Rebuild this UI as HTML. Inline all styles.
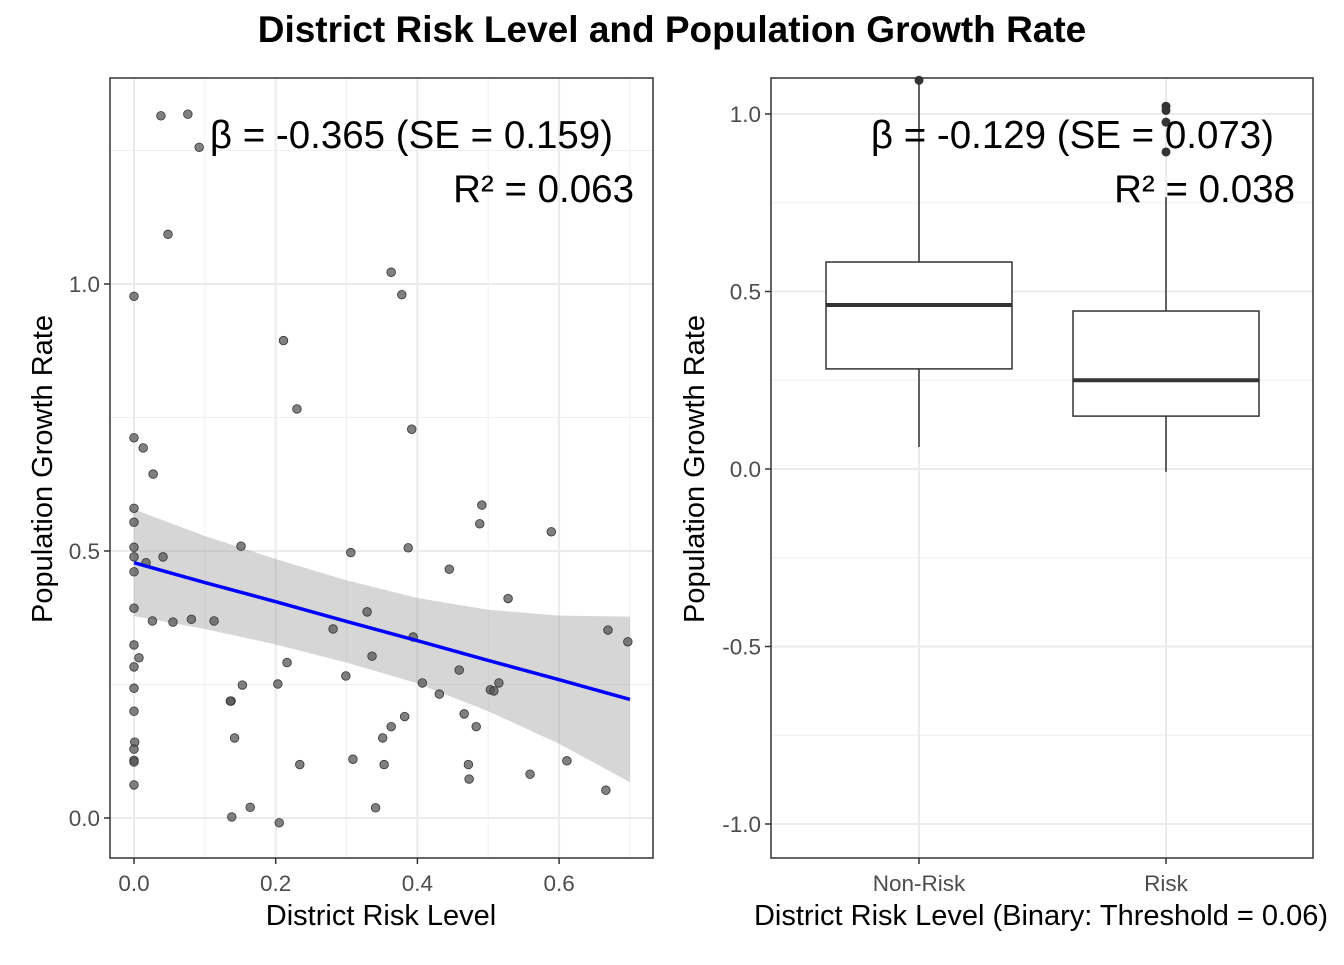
<!DOCTYPE html>
<html><head><meta charset="utf-8"><style>
body{margin:0;background:#fff;width:1344px;height:960px;overflow:hidden}
svg text{font-family:"Liberation Sans",sans-serif}
</style></head><body>
<svg id="c" width="1344" height="960" xmlns="http://www.w3.org/2000/svg">
<text x="672" y="42" text-anchor="middle" font-size="37" font-weight="bold">District Risk Level and Population Growth Rate</text>
</svg>
<script>
const riskX=[0.038,0.076,0.092,0.048,0.0,0.363,0.378,0.211,0.23,0.392,0.0,0.013,0.027,0.0,0.0,0.0,0.0,0.017,0.041,0.0,0.151,0.306,0.387,0.445,0.491,0.488,0.589,0.0,0.026,0.055,0.081,0.113,0.329,0.281,0.394,0.528,0.0,0.007,0.0,0.0,0.0,0.001,0.216,0.203,0.137,0.153,0.299,0.336,0.407,0.431,0.459,0.503,0.508,0.515,0.669,0.697,0.466,0.483,0.382,0.363,0.351,0.136,0.142,0.0,0.0,0.0,0.0,0.234,0.309,0.353,0.472,0.473,0.559,0.611,0.666,0.138,0.164,0.205,0.341];
const growth=[1.315,1.318,1.256,1.093,0.977,1.022,0.98,0.894,0.766,0.728,0.712,0.693,0.644,0.58,0.554,0.507,0.489,0.478,0.489,0.461,0.509,0.497,0.506,0.466,0.586,0.551,0.536,0.393,0.369,0.367,0.372,0.369,0.386,0.354,0.339,0.411,0.324,0.3,0.283,0.243,0.2,0.142,0.291,0.251,0.219,0.249,0.266,0.303,0.253,0.232,0.277,0.24,0.238,0.253,0.352,0.33,0.195,0.171,0.19,0.171,0.15,0.219,0.15,0.129,0.108,0.105,0.062,0.1,0.11,0.1,0.1,0.073,0.082,0.107,0.052,0.002,0.02,-0.009,0.019];
const fitX=[0,0.1,0.2,0.3,0.4,0.5,0.6,0.7];
const fitY=[0.478,0.441,0.405,0.368,0.332,0.295,0.259,0.222];
const fitHW=[0.10,0.087,0.08,0.077,0.08,0.095,0.12,0.155];
const xTicks=[0,0.2,0.4,0.6], xTickLabels=["0.0","0.2","0.4","0.6"];
const yTicks=[0,0.5,1.0], yTickLabels=["0.0","0.5","1.0"];
const groups=["Non-Risk","Risk"];
const boxQ1=[0.282,0.149], boxMed=[0.462,0.25], boxQ3=[0.583,0.445];
const whiskLo=[0.062,-0.008], whiskHi=[1.085,0.766];
const outlierGroup=[0,1,1,1,1], outlierVal=[1.095,1.022,1.01,0.977,0.893];
const y2Ticks=[-1,-0.5,0,0.5,1], y2TickLabels=["-1.0","-0.5","0.0","0.5","1.0"];

const svg=document.getElementById('c');const NS='http://www.w3.org/2000/svg';
function mk(t,a,txt){const e=document.createElementNS(NS,t);for(const k in a)e.setAttribute(k,a[k]);if(txt!==undefined)e.textContent=txt;svg.appendChild(e);return e;}
const TF=22.5, AF=29, NF=38.5;
// left panel
const L={x0:110,x1:653,y0:78,y1:858};
const sx=v=>134+v*708.5, sy=v=>818-v*534;
const bg=mk('rect',{x:L.x0,y:L.y0,width:L.x1-L.x0,height:L.y1-L.y0,fill:'#fff'});


[0.1,0.3,0.5,0.7].forEach(v=>{const g=mk('line',{x1:sx(v),x2:sx(v),y1:L.y0,y2:L.y1,stroke:'#f0f0f0','stroke-width':1});});
[0.25,0.75,1.25].forEach(v=>{const g=mk('line',{x1:L.x0,x2:L.x1,y1:sy(v),y2:sy(v),stroke:'#f0f0f0','stroke-width':1});});
xTicks.forEach((v,i)=>{const g=mk('line',{x1:sx(v),x2:sx(v),y1:L.y0,y2:L.y1,stroke:'#ebebeb','stroke-width':2});
 const t=mk('line',{x1:sx(v),x2:sx(v),y1:L.y1,y2:L.y1+6,stroke:'#333','stroke-width':1.5});
 const l=mk('text',{x:sx(v),y:891,'text-anchor':'middle','font-size':TF,fill:'#4d4d4d'},xTickLabels[i]);});
yTicks.forEach((v,i)=>{const g=mk('line',{x1:L.x0,x2:L.x1,y1:sy(v),y2:sy(v),stroke:'#ebebeb','stroke-width':2});
 const t=mk('line',{x1:L.x0-6,x2:L.x0,y1:sy(v),y2:sy(v),stroke:'#333','stroke-width':1.5});
 const l=mk('text',{x:L.x0-10,y:sy(v)+8,'text-anchor':'end','font-size':TF,fill:'#4d4d4d'},yTickLabels[i]);});
let up=fitX.map((v,i)=>sx(v)+','+sy(fitY[i]+fitHW[i])),lo=fitX.map((v,i)=>sx(v)+','+sy(fitY[i]-fitHW[i])).reverse();
const band=mk('polygon',{points:up.concat(lo).join(' '),fill:'#999',opacity:0.4});


riskX.forEach((v,i)=>{const p=mk('circle',{cx:sx(v),cy:sy(growth[i]),r:4.3,fill:'#555','fill-opacity':0.75,stroke:'#333','stroke-width':0.8});});
const fl=mk('polyline',{points:fitX.map((v,i)=>sx(v)+','+sy(fitY[i])).join(' '),fill:'none',stroke:'#0000ff','stroke-width':3.5});


const b1=mk('rect',{x:L.x0,y:L.y0,width:L.x1-L.x0,height:L.y1-L.y0,fill:'none',stroke:'#333','stroke-width':1.5});


let a=mk('text',{x:613,y:148,'text-anchor':'end','font-size':NF},'β = -0.365 (SE = 0.159)');
a=mk('text',{x:634,y:202,'text-anchor':'end','font-size':NF},'R² = 0.063');
a=mk('text',{x:381,y:925,'text-anchor':'middle','font-size':AF},'District Risk Level');
a=mk('text',{x:52,y:469,'text-anchor':'middle','font-size':AF,transform:'rotate(-90 52 469)'},'Population Growth Rate');
// right panel
const R={x0:771,x1:1313,y0:78,y1:858};
const gx=i=>919+i*247, gy=v=>469-v*355;
[-0.75,-0.25,0.25,0.75].forEach(v=>{const g=mk('line',{x1:R.x0,x2:R.x1,y1:gy(v),y2:gy(v),stroke:'#f0f0f0','stroke-width':1});});
y2Ticks.forEach((v,i)=>{const g=mk('line',{x1:R.x0,x2:R.x1,y1:gy(v),y2:gy(v),stroke:'#ebebeb','stroke-width':2});
 const t=mk('line',{x1:R.x0-6,x2:R.x0,y1:gy(v),y2:gy(v),stroke:'#333','stroke-width':1.5});
 const l=mk('text',{x:R.x0-10,y:gy(v)+8,'text-anchor':'end','font-size':TF,fill:'#4d4d4d'},y2TickLabels[i]);});
groups.forEach((gname,i)=>{const x=gx(i),hw=93;
 let e=mk('line',{x1:x,x2:x,y1:R.y0,y2:R.y1,stroke:'#ebebeb','stroke-width':2});
 e=mk('line',{x1:x,x2:x,y1:R.y1,y2:R.y1+6,stroke:'#333','stroke-width':1.5});
 e=mk('text',{x:x,y:891,'text-anchor':'middle','font-size':TF,fill:'#4d4d4d'},gname);
 e=mk('line',{x1:x,x2:x,y1:gy(whiskHi[i]),y2:gy(boxQ3[i]),stroke:'#333','stroke-width':1.5});
 e=mk('line',{x1:x,x2:x,y1:gy(boxQ1[i]),y2:gy(whiskLo[i]),stroke:'#333','stroke-width':1.5});
 e=mk('rect',{x:x-hw,y:gy(boxQ3[i]),width:2*hw,height:gy(boxQ1[i])-gy(boxQ3[i]),fill:'#fff',stroke:'#333','stroke-width':1.5});
 e=mk('line',{x1:x-hw,x2:x+hw,y1:gy(boxMed[i]),y2:gy(boxMed[i]),stroke:'#333','stroke-width':4});});
outlierGroup.forEach((g,i)=>{const p=mk('circle',{cx:gx(g),cy:gy(outlierVal[i]),r:4.5,fill:'#333'});});
const b2=mk('rect',{x:R.x0,y:R.y0,width:R.x1-R.x0,height:R.y1-R.y0,fill:'none',stroke:'#333','stroke-width':1.5});


a=mk('text',{x:1274,y:148,'text-anchor':'end','font-size':NF},'β = -0.129 (SE = 0.073)');
a=mk('text',{x:1295,y:202,'text-anchor':'end','font-size':NF},'R² = 0.038');
a=mk('text',{x:1041,y:925,'text-anchor':'middle','font-size':AF},'District Risk Level (Binary: Threshold = 0.06)');
a=mk('text',{x:704,y:469,'text-anchor':'middle','font-size':AF,transform:'rotate(-90 704 469)'},'Population Growth Rate');
</script>
</body></html>
